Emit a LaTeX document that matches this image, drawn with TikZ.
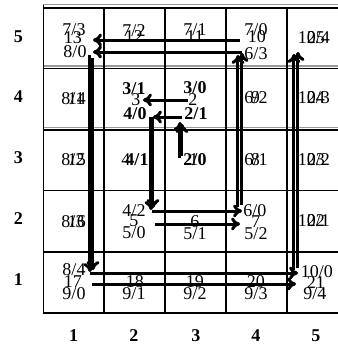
\documentclass[tikz,border=0pt]{standalone}
\usepackage{fontspec}
\setmainfont{Liberation Serif}
\usetikzlibrary{arrows.meta}

\begin{document}
\begin{tikzpicture}[
  x=0.5pt, y=-0.5pt,
  every node/.style={inner sep=0pt, font=\fontsize{9}{10}\selectfont},
  hi/.style={font=\fontsize{9}{10}\selectfont\bfseries},
  rule/.style={line width=0.8pt},
  ghost/.style={line width=0.8pt, black!40},
  arrow/.style={-{To[length=4.5pt,width=6.5pt]}, line width=1.5pt}
]
\useasboundingbox (0,0) rectangle (338,345);
% board
\draw[ghost] (43,4.5) -- (348,4.5) (43,66) -- (348,66) (43,127.5) -- (348,127.5);
\draw[rule] (43,8) -- (348,8) (43,68.5) -- (348,68.5) (43,130) -- (348,130) (43,190.5) -- (348,190.5) (43,252) -- (348,252);
\draw[rule] (43.5,4.5) -- (43.5,313) (104,8) -- (104,313) (165,8) -- (165,313) (226,8) -- (226,313) (287,8) -- (287,313);
\draw[line width=1.2pt] (43,313) -- (348,313);
% axis labels
\node[hi] (r5) at (18.5,37) {5};
\node[hi] (r4) at (18.5,97) {4};
\node[hi] (r3) at (18.5,158) {3};
\node[hi] (r2) at (18.5,219) {2};
\node[hi] (r1) at (18.5,280) {1};
\node[hi] (c1) at (73.5,336) {1};
\node[hi] (c2) at (134,336) {2};
\node[hi] (c3) at (196,336) {3};
\node[hi] (c4) at (256,336) {4};
\node[hi] (c5) at (316,336) {5};
% row 5
\node (p73) at (74,30) {7/3};
\node (n13) at (73,38) {13};
\node (p80) at (75,52) {8/0};
\node (p72) at (134,31) {7/2};
\node (n12) at (134,37) {12};
\node (p71) at (195,30) {7/1};
\node (n11) at (195,37) {11};
\node (p70) at (256,30) {7/0};
\node (n10) at (257,37) {10};
\node (p63) at (256,54) {6/3};
\node (p104) at (314,38) {10/4};
\node (n25) at (316,38) {25};
% row 4
\node (p81) at (73,99) {8/1};
\node (n14) at (77,99) {14};
\node[hi] (p31) at (134,89) {3/1};
\node (n3) at (136,100) {3};
\node[hi] (p40) at (135,114) {4/0};
\node[hi] (p30) at (195,88) {3/0};
\node (n2) at (193,100) {2};
\node[hi] (p21) at (196,114) {2/1};
\node (p62) at (256,98) {6/2};
\node (n9) at (255.5,98) {9};
\node (p103) at (314,98) {10/3};
\node (n24) at (316,98) {24};
% row 3
\node (p82) at (73,160) {8/2};
\node (n15) at (77,160) {15};
\node[hi] (p41) at (137,160) {4/1};
\node (n4) at (126,160) {4};
\node[hi] (p20) at (195,160) {2/0};
\node (n1) at (194,160) {1};
\node (p61) at (256,160) {6/1};
\node (n8) at (255.5,160) {8};
\node (p102) at (314,160) {10/2};
\node (n23) at (316,160) {23};
% row 2
\node (p83) at (73,222) {8/3};
\node (n16) at (77,222) {16};
\node (p42) at (134,211) {4/2};
\node (n5) at (134,221) {5};
\node (p50) at (134,233) {5/0};
\node (n6) at (195,222) {6};
\node (p51) at (195,234) {5/1};
\node (p60) at (255,211) {6/0};
\node (n7) at (256,222) {7};
\node (p52) at (256,234) {5/2};
\node (p101) at (314,221) {10/1};
\node (n22) at (316,221) {22};
% row 1
\node (p84) at (74,270) {8/4};
\node (n17) at (73,282) {17};
\node (p90) at (74,294) {9/0};
\node (n18) at (135,282) {18};
\node (p91) at (134,294) {9/1};
\node (n19) at (195,282) {19};
\node (p92) at (195,294) {9/2};
\node (n20) at (256,282) {20};
\node (p93) at (256,294) {9/3};
\node (p100) at (317,272) {10/0};
\node (n21) at (316,283) {21};
\node (p94) at (315,294) {9/4};
% spiral arrows
\draw[arrow] ([shift={(-15,-2)}]p20.center) -- ([shift={(-16,8)}]p21.center);
\draw[arrow] ([shift={(-12,-4)}]n1.center) -- ([shift={(-11,24)}]n2.center);
\draw[arrow] ([shift={(-5,0)}]n2.center) -- ([shift={(7,0)}]n3.center);
\draw[arrow] ([shift={(-14,3)}]p21.center) -- ([shift={(18,3)}]p40.center);
\draw[arrow] ([shift={(16,3)}]p40.center) -- ([shift={(17,-1)}]p42.center);
\draw[arrow] ([shift={(17,17)}]n3.center) -- ([shift={(19,-13)}]n5.center);
\draw[arrow] ([shift={(18,0)}]p42.center) -- ([shift={(-13,0)}]p60.center);
\draw[arrow] ([shift={(21,3)}]n5.center) -- ([shift={(-16,2)}]n7.center);
\draw[arrow] ([shift={(-13,-6)}]p60.center) -- ([shift={(-14,-1)}]p63.center);
\draw[arrow] ([shift={(-18,-15)}]n7.center) -- ([shift={(-19,18)}]n10.center);
\draw[arrow] ([shift={(-14,-2)}]p63.center) -- ([shift={(18,0)}]p80.center);
\draw[arrow] ([shift={(-17,3)}]n10.center) -- ([shift={(20,2)}]n13.center);
\draw[arrow] ([shift={(15,3)}]p80.center) -- ([shift={(16,2)}]p84.center);
\draw[arrow] ([shift={(20,20)}]n13.center) -- ([shift={(20,-12)}]n17.center);
\draw[arrow] ([shift={(16,3)}]p84.center) -- ([shift={(-19,1)}]p100.center);
\draw[arrow] ([shift={(19,2)}]n17.center) -- ([shift={(-20,1)}]n21.center);
\draw[arrow] ([shift={(-19,-4)}]p100.center) -- ([shift={(-16,14)}]p104.center);
\draw[arrow] ([shift={(-22,-13)}]n21.center) -- ([shift={(-22,16)}]n25.center);
\end{tikzpicture}
\end{document}
